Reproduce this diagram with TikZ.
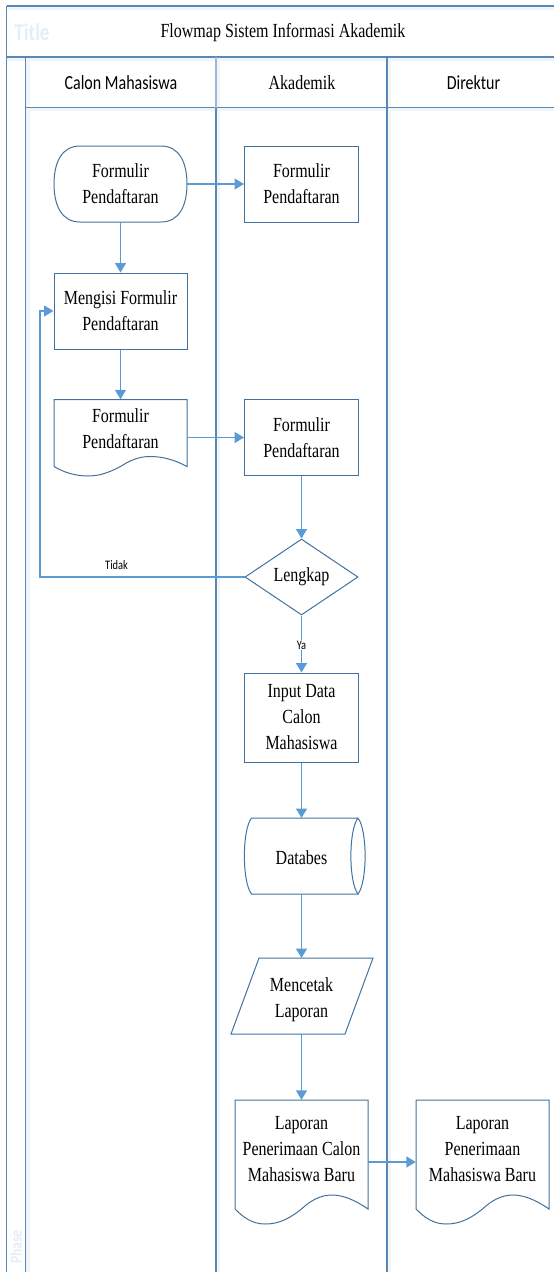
\documentclass[tikz,border=0pt]{standalone}
\usepackage{fontspec}
\setmainfont[FakeStretch=0.8]{Liberation Serif}
\newfontfamily\calib[FakeStretch=0.8]{Carlito}
\usetikzlibrary{arrows.meta,shapes.geometric}
\definecolor{lane}{HTML}{5A88B5}
\definecolor{glow}{HTML}{F0F5FA}
\definecolor{shapeline}{HTML}{41719C}
\definecolor{conn}{HTML}{5B9BD5}
\definecolor{ghost}{HTML}{E6EDF6}
\tikzset{
  laneline/.style={draw=lane,line width=1.3pt},
  laneglow/.style={draw=glow,line width=4pt},
  shapeborder/.style={draw=shapeline,line width=1pt},
  txt/.style={font=\fontsize{20}{26}\selectfont,align=center,inner sep=0pt,text=black},
  boxnode/.style={txt,shapeborder,rectangle,minimum width=114pt,minimum height=76pt},
  widebox/.style={txt,shapeborder,rectangle,minimum width=133pt,minimum height=76pt},
  decision/.style={txt,shapeborder,diamond,aspect=1.5,minimum width=113pt,minimum height=76pt},
  plain/.style={txt,rectangle},
  head/.style={font=\calib\fontsize{20}{24}\selectfont,inner sep=0pt,text=black},
  small/.style={font=\calib\fontsize{13}{15}\selectfont,inner sep=1pt,text=black},
  flow/.style={draw=conn,line width=1.5pt,-{Triangle[length=9.5pt,width=11pt]}},
}
\begin{document}
\begin{tikzpicture}[x=1pt,y=-1pt]
\useasboundingbox (0,0) rectangle (554,1272);
\begin{scope}
\clip (0,0) rectangle (554,1272);
% soft glow of the pool
\draw[laneglow] (6.5,8) -- (554,8);
\draw[laneglow] (6.5,59) -- (554,59);
\draw[laneglow] (25.5,109) -- (554,109);
\draw[laneglow] (28,59) -- (28,1272);
\draw[laneglow] (218,59) -- (218,1272);
\draw[laneglow] (389,59) -- (389,1272);
\node[font=\calib\bfseries\fontsize{24}{26}\selectfont,text=ghost,inner sep=0pt] (ghostTitle) at (32,32) {Title};
\node[font=\calib\bfseries\fontsize{17}{18}\selectfont,text=ghost,inner sep=0pt,rotate=90] (ghostPhase) at (16,1247) {Phase};
% pool lines
\draw[laneline] (6.5,6) -- (554,6);
\draw[laneline] (6.5,6) -- (6.5,1272);
\draw[laneline] (6.5,57) -- (554,57);
\draw[laneline] (25.5,57) -- (25.5,1272);
\draw[laneline] (25.5,107.5) -- (554,107.5);
\draw[laneline] (216,107.5) -- (216,1272);
\draw[laneline,draw=lane!60] (216,57) -- (216,107.5);
\draw[laneline] (387,57) -- (387,1272);
\end{scope}
% titles
\node[txt] (title) at (283,33) {Flowmap Sistem Informasi Akademik};
\node[head] (h1) at (121,82.5) {Calon Mahasiswa};
\node[txt] (h2) at (302,83) {Akademik};
\node[head] (h3) at (473.5,82.5) {Direktur};
% nodes
\node[plain,minimum width=133pt,minimum height=76pt] (oval) at (120.5,184) {Formulir\\Pendaftaran};
\node[boxnode] (r1) at (301.5,184) {Formulir\\Pendaftaran};
\node[widebox] (isi) at (120.5,311) {Mengisi Formulir\\Pendaftaran};
\node[plain,minimum width=133pt,minimum height=58pt] (d1) at (120.5,428.5) {Formulir\\Pendaftaran};
\node[boxnode] (r2) at (301.5,437.5) {Formulir\\Pendaftaran};
\node[decision] (cek) at (301.5,577) {Lengkap};
\node[boxnode,minimum height=89pt] (input) at (301.5,717.5) {Input Data\\Calon\\Mahasiswa};
\node[plain,minimum width=114pt,minimum height=72pt] (db) at (301.5,858) {Databes};
\node[plain,minimum width=86pt,minimum height=68pt] (para) at (301.5,1000) {Mencetak\\Laporan};
\node[plain,minimum width=133pt,minimum height=98pt] (lap1) at (301.5,1149) {Laporan\\Penerimaan Calon\\Mahasiswa Baru};
\node[plain,minimum width=133pt,minimum height=98pt] (lap2) at (482.5,1149) {Laporan\\Penerimaan\\Mahasiswa Baru};
\coordinate (dbTop) at (301.5,818);
\coordinate (paraTop) at (301.5,958);
% hand-drawn outlines
\draw[shapeborder] (80,146) -- (161,146)
  .. controls (179,146) and (187,162) .. (187,184)
  .. controls (187,206) and (179,222) .. (161,222) -- (80,222)
  .. controls (62,222) and (54,206) .. (54,184)
  .. controls (54,162) and (62,146) .. (80,146) -- cycle;
\draw[shapeborder] (54,466.5) -- (54,399.5) -- (187,399.5) -- (187,466.5)
  .. controls (175,460) and (163,456.5) .. (150,456.5)
  .. controls (138,456.5) and (129,461) .. (120.5,466.5)
  .. controls (110,472) and (100,476) .. (88,476)
  .. controls (75,476) and (63,472) .. (54,466.5);
\draw[shapeborder] (235,1209) -- (235,1100) -- (368,1100) -- (368,1209)
  .. controls (355,1200) and (343,1195) .. (332,1195)
  .. controls (320,1195) and (310,1201) .. (301.5,1209)
  .. controls (290,1218) and (280,1224) .. (265,1224)
  .. controls (252,1224) and (243,1217) .. (235,1209);
\draw[shapeborder] (416,1209) -- (416,1100) -- (549,1100) -- (549,1209)
  .. controls (536,1200) and (524,1195) .. (513,1195)
  .. controls (501,1195) and (491,1201) .. (482.5,1209)
  .. controls (471,1218) and (461,1224) .. (446,1224)
  .. controls (433,1224) and (424,1217) .. (416,1209);
\draw[shapeborder] (358,818) -- (251.5,818)
  .. controls (242,830) and (242,882) .. (251.5,894) -- (358,894);
\draw[shapeborder] (358,818) .. controls (348.5,830) and (348.5,882) .. (358,894)
  .. controls (367.5,882) and (367.5,830) .. (358,818);
\draw[shapeborder] (259,958) -- (373,958) -- (345,1034) -- (231,1034) -- cycle;
% connectors
\draw[flow] (oval.east) -- (r1.west);
\draw[flow] (oval.south) -- (isi.north);
\draw[flow] (isi.south) -- (d1.north);
\draw[flow] (d1.east |- r2.west) -- (r2.west);
\draw[flow] (r2.south) -- (cek.north);
\coordinate (backLow) at (40,577);
\coordinate (backHigh) at (40,311);
\draw[flow] (cek.west) -- (backLow) -- (backHigh) -- (isi.west);
\node[small] (tidak) at (116.5,565) {Tidak};
\draw[flow] (cek.south) -- (input.north) node[pos=0.52,small,fill=white,text=black] (ya) {Ya};
\draw[flow] (input.south) -- (dbTop);
\draw[flow] (db.south) -- (paraTop);
\draw[flow] (para.south) -- (lap1.north);
\draw[flow] ([yshift=-13pt]lap1.east) -- ([yshift=-13pt]lap2.west);
\end{tikzpicture}
\end{document}
